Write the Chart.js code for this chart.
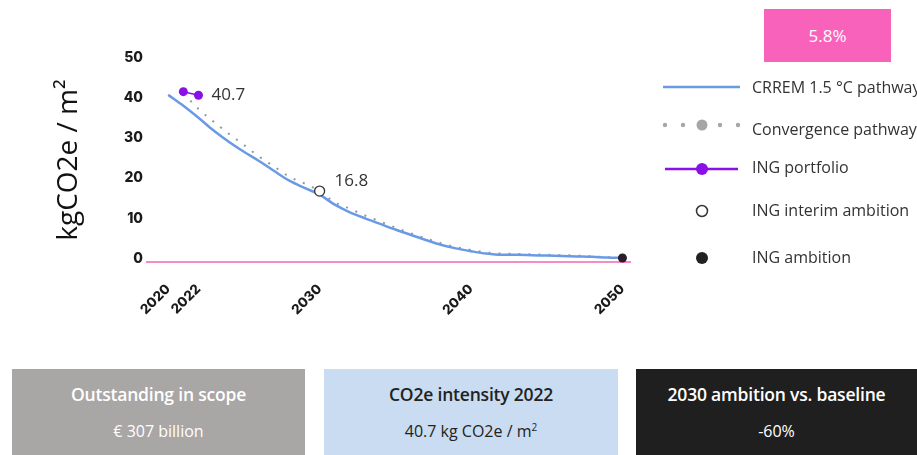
<!DOCTYPE html>
<html>
<head>
<meta charset="utf-8">
<script src="https://cdn.jsdelivr.net/npm/chart.js@4.4.1/dist/chart.umd.min.js"></script>
<style>
    body { margin: 0; width: 917px; height: 455px; overflow: hidden; background: #fff; position: relative; font-family: "Open Sans", sans-serif; }
    #chartWrap { position: absolute; left: 0; top: 0; width: 917px; height: 340px; }
    .badge { position: absolute; left: 764px; top: 9px; width: 127px; height: 53px; background: #f862ba; color: #fff; font-size: 17px; display: flex; align-items: center; justify-content: center; }
    .card { position: absolute; top: 369px; height: 86px; text-align: center; white-space: nowrap; }
    .card .t { position: absolute; left: 0; right: 0; top: 13px; font-size: 17.5px; font-weight: 600; letter-spacing: -0.2px; }
    .card .v { position: absolute; left: 0; right: 0; top: 51px; font-size: 16px; }
    .card sup { font-size: 10px; }
</style>
</head>
<body>
<div id="chartWrap"><canvas id="ing-chart" width="917" height="340"></canvas></div>
<div class="badge">5.8%</div>
<div class="card" style="left:12px;width:293px;background:#a9a6a6;color:#fff;">
    <div class="t">Outstanding in scope</div><div class="v">€ 307 billion</div>
</div>
<div class="card" style="left:324px;width:294px;background:#c9dcf1;color:#222;">
    <div class="t">CO2e intensity 2022</div><div class="v">40.7 kg CO2e / m<sup>2</sup></div>
</div>
<div class="card" style="left:636px;width:281px;background:#1f1f1f;color:#fff;">
    <div class="t">2030 ambition vs. baseline</div><div class="v">-60%</div>
</div>
<script>
(function() {
    'use strict';

    // Data
    var crremYears = [2020, 2021, 2022, 2023, 2024, 2025, 2026, 2027, 2028, 2029, 2030,
        2031, 2032, 2033, 2034, 2035, 2036, 2037, 2038, 2039, 2040,
        2041, 2042, 2043, 2044, 2045, 2046, 2047, 2048, 2049, 2050];
    var crremValues = [40.8, 38.1, 35.1, 31.9, 29.1, 26.6, 24.3, 21.8, 19.4, 17.6, 15.9,
        13.4, 11.5, 10.0, 8.6, 7.2, 5.9, 4.6, 3.4, 2.5, 1.8,
        1.2, 0.9, 0.9, 0.8, 0.7, 0.6, 0.5, 0.4, 0.2, 0.1];

    var convergenceYears = [2021, 2022, 2023, 2024, 2025, 2026, 2027, 2028, 2029, 2030,
        2031, 2032, 2033, 2034, 2035, 2036, 2037, 2038, 2039, 2040,
        2041, 2042, 2043, 2044, 2045, 2046, 2047, 2048, 2049, 2050];
    var convergenceValues = [41.2, 37.3, 34.1, 31.1, 28.3, 25.4, 22.9, 20.4, 18.7, 16.8,
        14.0, 12.4, 10.7, 9.2, 7.7, 6.3, 5.0, 3.8, 2.8, 2.1,
        1.5, 1.2, 1.1, 1.0, 0.9, 0.8, 0.7, 0.5, 0.3, 0.2];

    var portfolioYears = [2021, 2022];
    var portfolioValues = [41.6, 40.7];

    var interimYears = [2030];
    var interimValues = [16.8];

    var ambitionYears = [2050];
    var ambitionValues = [0.1];

    var xTickValues = [2020, 2022, 2030, 2040, 2050];
    var yTickValues = [0, 10, 20, 30, 40, 50];

    var legendLabels = ['CRREM 1.5 °C pathway', 'Convergence pathway', 'ING portfolio',
        'ING interim ambition', 'ING ambition'];

    function toPoints(xs, ys) {
        return xs.map(function(x, i) { return { x: x, y: ys[i] }; });
    }

    var colors = {
        crrem: '#6a9ae6',
        convergence: '#8f989c',
        legendDots: '#a6a6a6',
        portfolio: '#8a10e8',
        interim: '#333333',
        ambition: '#2a1c2c',
        axis: '#f58cc9',
        text: '#333333'
    };

    // Value labels next to the 2022 portfolio point and the 2030 interim point
    var valueLabelsPlugin = {
        id: 'valueLabels',
        afterDatasetsDraw: function(chart) {
            var ctx = chart.ctx;
            var x = chart.scales.x, y = chart.scales.y;
            ctx.save();
            ctx.font = '17px "Open Sans"';
            ctx.fillStyle = colors.text;
            ctx.textBaseline = 'middle';
            ctx.textAlign = 'left';
            var last = portfolioValues.length - 1;
            ctx.fillText(String(portfolioValues[last]),
                x.getPixelForValue(portfolioYears[last]) + 13, y.getPixelForValue(portfolioValues[last]));
            ctx.fillText(String(interimValues[0]),
                x.getPixelForValue(interimYears[0]) + 15, y.getPixelForValue(interimValues[0]) - 10);
            ctx.restore();
        }
    };

    // Legend drawn by hand on the right
    var sideLegendPlugin = {
        id: 'sideLegend',
        afterDraw: function(chart) {
            var ctx = chart.ctx;
            var rows = [87, 125, 169, 211, 258];
            var x0 = 663, x1 = 740, xm = 702, tx = 752;
            ctx.save();

            // CRREM line
            ctx.strokeStyle = colors.crrem;
            ctx.lineWidth = 2.5;
            ctx.beginPath(); ctx.moveTo(x0, rows[0]); ctx.lineTo(x1, rows[0]); ctx.stroke();

            // convergence dots
            ctx.fillStyle = colors.legendDots;
            [665, 683, 720, 738].forEach(function(px) {
                ctx.beginPath(); ctx.arc(px, rows[1], 2.2, 0, Math.PI * 2); ctx.fill();
            });
            ctx.beginPath(); ctx.arc(xm, rows[1], 5.5, 0, Math.PI * 2); ctx.fill();

            // portfolio
            ctx.strokeStyle = colors.portfolio;
            ctx.fillStyle = colors.portfolio;
            ctx.lineWidth = 2.5;
            ctx.beginPath(); ctx.moveTo(x0 + 2, rows[2]); ctx.lineTo(x1 - 2, rows[2]); ctx.stroke();
            ctx.beginPath(); ctx.arc(xm, rows[2], 6, 0, Math.PI * 2); ctx.fill();

            // interim ambition
            ctx.strokeStyle = colors.interim;
            ctx.fillStyle = '#ffffff';
            ctx.lineWidth = 1.5;
            ctx.beginPath(); ctx.arc(xm, rows[3], 5.5, 0, Math.PI * 2); ctx.fill(); ctx.stroke();

            // ambition
            ctx.fillStyle = '#222222';
            ctx.beginPath(); ctx.arc(xm, rows[4], 6, 0, Math.PI * 2); ctx.fill();

            ctx.font = '16px "Open Sans"';
            ctx.fillStyle = colors.text;
            ctx.textBaseline = 'middle';
            ctx.textAlign = 'left';
            var textRows = [88, 130, 168, 211, 258];
            legendLabels.forEach(function(label, i) {
                ctx.fillText(label, tx, textRows[i]);
            });
            ctx.restore();
        }
    };

    var chartConfig = {
        type: 'line',
        data: {
            datasets: [
                {
                    label: legendLabels[0],
                    data: toPoints(crremYears, crremValues),
                    borderColor: colors.crrem,
                    borderWidth: 2.5,
                    pointRadius: 0,
                    cubicInterpolationMode: 'monotone',
                    order: 3
                },
                {
                    label: legendLabels[1],
                    data: toPoints(convergenceYears, convergenceValues),
                    borderColor: colors.convergence,
                    borderWidth: 2,
                    borderDash: [2, 8],
                    pointRadius: 0,
                    cubicInterpolationMode: 'monotone',
                    order: 4
                },
                {
                    label: legendLabels[2],
                    data: toPoints(portfolioYears, portfolioValues),
                    borderColor: colors.portfolio,
                    backgroundColor: colors.portfolio,
                    borderWidth: 1.5,
                    pointRadius: 4.5,
                    pointBorderWidth: 0,
                    order: 1
                },
                {
                    label: legendLabels[3],
                    data: toPoints(interimYears, interimValues),
                    showLine: false,
                    pointRadius: 5,
                    pointBackgroundColor: '#ffffff',
                    pointBorderColor: colors.interim,
                    pointBorderWidth: 1.3,
                    order: 2
                },
                {
                    label: legendLabels[4],
                    data: toPoints(ambitionYears, ambitionValues),
                    showLine: false,
                    pointRadius: 4.5,
                    pointBackgroundColor: colors.ambition,
                    pointBorderWidth: 0,
                    clip: false,
                    order: 0
                }
            ]
        },
        options: {
            responsive: false,
            animation: false,
            layout: {
                padding: { left: 0, right: 287, top: 58, bottom: 0 }
            },
            plugins: {
                legend: { display: false },
                tooltip: { enabled: false }
            },
            scales: {
                x: {
                    type: 'linear',
                    min: 2018.6,
                    max: 2050.5,
                    afterBuildTicks: function(scale) {
                        scale.ticks = xTickValues.map(function(v) { return { value: v }; });
                    },
                    afterFit: function(scale) {
                        scale.height = 78;
                    },
                    grid: { display: false },
                    border: { display: true, color: colors.axis, width: 2 },
                    ticks: {
                        autoSkip: false,
                        minRotation: 45,
                        maxRotation: 45,
                        padding: 11,
                        color: '#1a1a1a',
                        font: { family: 'Inter', size: 13.5, weight: '800' },
                        callback: function(value) { return String(value); }
                    }
                },
                y: {
                    min: -0.9,
                    max: 50,
                    afterBuildTicks: function(scale) {
                        scale.ticks = yTickValues.map(function(v) { return { value: v }; });
                    },
                    afterFit: function(scale) {
                        scale.width = 147;
                    },
                    grid: { display: false, drawTicks: false },
                    border: { display: false },
                    ticks: {
                        padding: 4,
                        color: '#1a1a1a',
                        font: { family: 'Inter', size: 14, weight: '800' }
                    },
                    title: {
                        display: true,
                        text: 'kgCO2e / m²',
                        color: '#111111',
                        padding: { top: 52, bottom: 0 },
                        font: { family: 'Open Sans', size: 28, weight: '400' }
                    }
                }
            }
        },
        plugins: [valueLabelsPlugin, sideLegendPlugin]
    };

    var canvas = document.getElementById('ing-chart');
    try {
        new Chart(canvas.getContext('2d'), chartConfig);
    } catch (error) {
        console.error('Chart initialization failed:', error);
    }
})();
</script>
</body>
</html>
